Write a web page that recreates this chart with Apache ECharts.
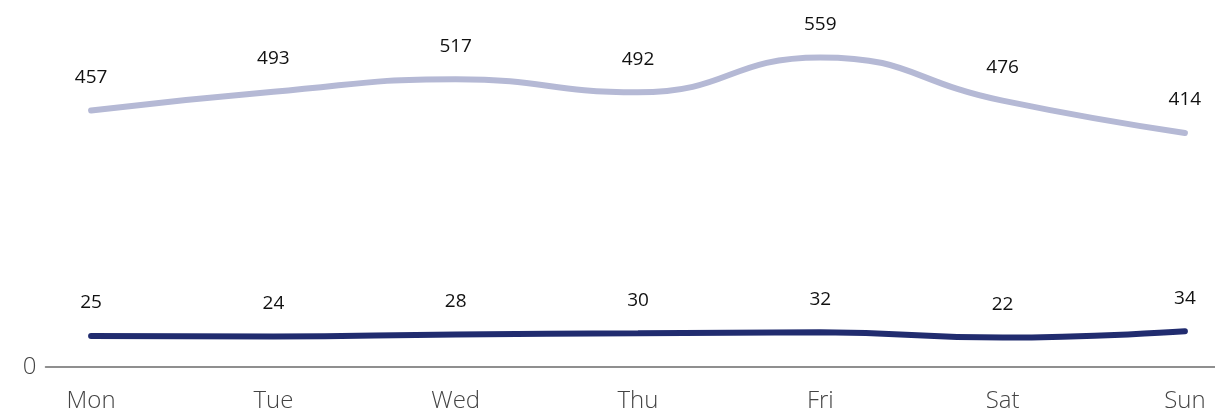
<!DOCTYPE html>
<html>
<head>
<meta charset="utf-8">
<script src="https://cdn.jsdelivr.net/npm/echarts@6/dist/echarts.min.js"></script>
<style>
  html, body { margin: 0; padding: 0; background: #fff; }
  #chart { width: 1215px; height: 415px; }
</style>
</head>
<body>
<div id="chart"></div>
<script>
// Weekly figures for two series
const days = ['Mon', 'Tue', 'Wed', 'Thu', 'Fri', 'Sat', 'Sun'];
const upperValues = [457, 493, 517, 492, 559, 476, 414];
const lowerValues = [25, 24, 28, 30, 32, 22, 34];
const dayIndex = days.map((d, i) => i);

const toPoints = vals => vals.map((v, i) => [dayIndex[i], v]);
const fontFamily = '"Open Sans", "Noto Sans", sans-serif';

const labelStyle = {
  show: true,
  position: 'top',
  distance: 23,
  color: '#111',
  fontSize: 19,
  fontFamily: fontFamily
};

const chart = echarts.init(document.getElementById('chart'), null, { renderer: 'canvas' });
chart.setOption({
  animation: false,
  grid: { left: 45.5, right: 0, top: 36, bottom: 66, containLabel: false },
  xAxis: {
    type: 'value',
    min: -0.25,
    max: 6.165,
    offset: 18,
    name: '0',
    nameLocation: 'start',
    nameGap: 9,
    nameTextStyle: { color: '#444', fontSize: 24, fontWeight: 300, fontFamily: fontFamily },
    splitLine: { show: false },
    axisTick: { show: false },
    axisLine: { show: true, onZero: false, lineStyle: { color: '#6b6b6b', width: 1.5 } },
    axisLabel: {
      customValues: dayIndex,
      formatter: v => days[Math.round(v)],
      margin: 22,
      color: '#444',
      fontSize: 24,
      fontWeight: 300,
      fontFamily: fontFamily
    }
  },
  yAxis: {
    type: 'value',
    min: 0,
    max: 600,
    show: false,
    splitLine: { show: false }
  },
  series: [
    {
      name: 'upper',
      type: 'line',
      smooth: true,
      data: toPoints(upperValues),
      symbol: 'circle',
      symbolSize: 1,
      itemStyle: { color: '#b5b9d5' },
      lineStyle: { color: '#b5b9d5', width: 6, cap: 'round' },
      label: labelStyle
    },
    {
      name: 'lower',
      type: 'line',
      smooth: true,
      data: toPoints(lowerValues),
      symbol: 'circle',
      symbolSize: 1,
      itemStyle: { color: '#212c6f' },
      lineStyle: { color: '#212c6f', width: 6, cap: 'round' },
      label: labelStyle
    }
  ]
});
</script>
</body>
</html>
